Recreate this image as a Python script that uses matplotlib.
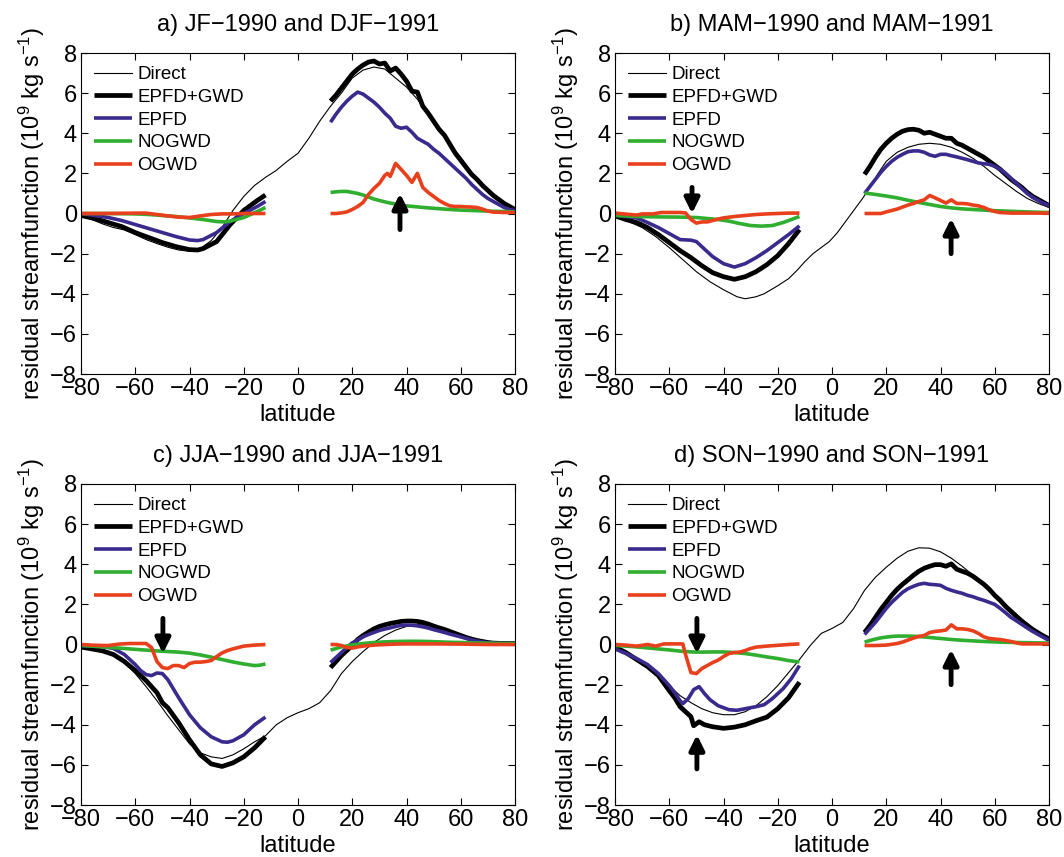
import numpy as np
import matplotlib
matplotlib.use("Agg")
import matplotlib.pyplot as plt

plt.rcParams['font.family'] = ['Liberation Sans', 'DejaVu Sans']
plt.rcParams['mathtext.fontset'] = 'custom'
plt.rcParams['mathtext.rm'] = 'Liberation Sans'
plt.rcParams['mathtext.it'] = 'Liberation Sans:italic'

# ---- data: (latitude, residual streamfunction in 1e9 kg/s) ----
# panel a) JF-1990 and DJF-1991
a_direct = [(-80, -0.13), (-76, -0.3), (-72, -0.52), (-68, -0.7), (-64, -0.82), (-60, -1.05), (-56, -1.3),
            (-52, -1.5), (-48, -1.68), (-44, -1.82), (-40, -1.88), (-36, -1.75), (-32, -1.35), (-28, -0.7),
            (-24, 0.15), (-20, 0.85), (-16, 1.4), (-12, 1.8), (-8, 2.15), (-4, 2.6), (0, 3.0), (4, 3.75),
            (8, 4.6), (12, 5.35), (16, 6.0), (20, 6.75), (24, 7.15), (28, 7.3), (32, 7.2), (36, 6.75),
            (40, 6.3), (44, 5.7), (48, 4.95), (52, 4.2), (56, 3.45), (60, 2.8), (64, 2.05), (68, 1.35),
            (72, 0.85), (76, 0.45), (80, 0.2)]
a_total_s = [(-80, -0.1), (-75, -0.25), (-70, -0.45), (-65, -0.65), (-60, -0.95), (-55, -1.2), (-50, -1.45),
             (-45, -1.65), (-40, -1.8), (-37, -1.82), (-35, -1.75), (-30, -1.4), (-25, -0.55), (-20, 0.15),
             (-15, 0.65), (-12, 0.92)]
a_total_n = [(12, 5.6), (14, 5.9), (16, 6.25), (18, 6.6), (20, 6.95), (22, 7.2), (24, 7.4), (26, 7.55),
             (28, 7.6), (30, 7.45), (32, 7.5), (34, 7.1), (36, 7.25), (38, 6.95), (40, 6.6), (42, 6.1),
             (44, 6.05), (46, 5.35), (48, 5.0), (50, 4.6), (52, 4.2), (54, 3.9), (56, 3.45), (58, 3.0),
             (60, 2.65), (62, 2.3), (64, 1.95), (66, 1.7), (68, 1.4), (70, 1.15), (72, 0.9), (74, 0.7),
             (76, 0.5), (78, 0.35), (80, 0.2)]
a_epfd_s = [(-80, 0.0), (-75, -0.1), (-70, -0.2), (-65, -0.35), (-60, -0.55), (-55, -0.75), (-50, -0.95),
            (-45, -1.15), (-40, -1.32), (-37, -1.35), (-35, -1.3), (-30, -0.95), (-25, -0.4), (-20, 0.0),
            (-15, 0.35), (-12, 0.6)]
a_epfd_n = [(12, 4.55), (14, 4.95), (16, 5.3), (18, 5.6), (20, 5.85), (22, 6.05), (24, 5.95), (26, 5.75),
            (28, 5.55), (30, 5.3), (32, 5.0), (34, 4.75), (36, 4.35), (38, 4.25), (40, 4.3), (42, 4.05),
            (44, 3.75), (46, 3.6), (48, 3.45), (50, 3.2), (52, 3.0), (54, 2.75), (56, 2.5), (58, 2.25),
            (60, 2.0), (62, 1.75), (64, 1.45), (66, 1.2), (68, 0.95), (70, 0.75), (72, 0.6), (74, 0.45),
            (76, 0.3), (78, 0.2), (80, 0.15)]
a_nogwd_s = [(-80, 0.0), (-70, 0.0), (-60, -0.02), (-55, -0.05), (-50, -0.1), (-45, -0.15), (-40, -0.22),
             (-35, -0.3), (-30, -0.4), (-27, -0.42), (-25, -0.38), (-20, -0.2), (-15, 0.1), (-12, 0.3)]
a_nogwd_n = [(12, 1.05), (14, 1.08), (16, 1.1), (18, 1.1), (20, 1.05), (22, 1.0), (24, 0.92), (26, 0.82),
             (28, 0.72), (30, 0.65), (32, 0.58), (34, 0.52), (36, 0.47), (38, 0.42), (40, 0.38), (44, 0.33),
             (48, 0.28), (52, 0.24), (56, 0.2), (60, 0.17), (64, 0.15), (68, 0.13), (72, 0.11), (76, 0.1),
             (80, 0.08)]
a_ogwd_s = [(-80, 0.0), (-70, 0.0), (-60, 0.02), (-56, 0.02), (-52, -0.05), (-48, -0.12), (-44, -0.18),
            (-40, -0.2), (-36, -0.12), (-32, -0.05), (-28, -0.02), (-24, -0.02), (-20, 0.0), (-16, 0.0),
            (-12, 0.0)]
a_ogwd_n = [(12, 0.0), (14, 0.0), (16, 0.03), (18, 0.08), (20, 0.2), (22, 0.35), (24, 0.55), (26, 0.95),
            (28, 1.25), (30, 1.5), (32, 1.9), (33, 2.0), (34, 1.85), (36, 2.5), (38, 2.2), (40, 1.9),
            (42, 1.55), (44, 2.0), (46, 1.3), (48, 1.05), (50, 0.85), (52, 0.65), (54, 0.5), (56, 0.38),
            (58, 0.35), (60, 0.35), (62, 0.33), (64, 0.32), (66, 0.3), (68, 0.22), (70, 0.12), (72, 0.07),
            (76, 0.05), (80, 0.05)]
a_arrows = [(37.6, -0.8, 1.0)]  # lat, tail, head

# panel b) MAM-1990 and MAM-1991
b_direct = [(-80, -0.1), (-75, -0.4), (-70, -0.7), (-65, -1.15), (-60, -1.7), (-55, -2.3), (-50, -2.9),
            (-45, -3.4), (-40, -3.8), (-35, -4.15), (-32, -4.25), (-28, -4.15), (-25, -4.0), (-20, -3.6),
            (-16, -3.25), (-13, -2.85), (-10, -2.4), (-7, -2.0), (-4, -1.7), (-1, -1.4), (2, -0.95),
            (5, -0.4), (8, 0.15), (11, 0.7), (14, 1.3), (17, 2.0), (20, 2.6), (24, 3.05), (28, 3.3),
            (32, 3.45), (36, 3.5), (40, 3.45), (44, 3.3), (48, 3.05), (52, 2.75), (56, 2.35), (60, 1.9),
            (64, 1.5), (68, 1.1), (72, 0.75), (76, 0.5), (80, 0.3)]
b_total_s = [(-80, -0.12), (-76, -0.3), (-72, -0.45), (-68, -0.7), (-64, -1.05), (-60, -1.45), (-56, -1.85),
             (-52, -2.2), (-48, -2.6), (-44, -2.95), (-40, -3.15), (-36, -3.28), (-32, -3.15), (-28, -2.9),
             (-24, -2.55), (-20, -2.1), (-16, -1.5), (-12, -0.8)]
b_total_n = [(12, 1.95), (14, 2.35), (16, 2.8), (18, 3.2), (20, 3.5), (22, 3.75), (24, 3.95), (26, 4.1),
             (28, 4.18), (30, 4.2), (32, 4.15), (34, 4.0), (36, 4.05), (38, 3.95), (40, 3.85), (42, 3.75),
             (44, 3.75), (46, 3.5), (48, 3.4), (50, 3.25), (52, 3.1), (54, 2.95), (56, 2.8), (58, 2.6),
             (60, 2.4), (62, 2.2), (64, 1.95), (66, 1.7), (68, 1.5), (70, 1.3), (72, 1.05), (74, 0.85),
             (76, 0.7), (78, 0.55), (80, 0.4)]
b_epfd_s = [(-80, -0.08), (-76, -0.15), (-72, -0.22), (-68, -0.45), (-64, -0.7), (-60, -1.0), (-56, -1.3),
            (-52, -1.33), (-50, -1.4), (-48, -1.65), (-44, -2.15), (-40, -2.5), (-36, -2.67), (-32, -2.5),
            (-28, -2.2), (-24, -1.85), (-20, -1.45), (-16, -1.05), (-12, -0.62)]
b_epfd_n = [(12, 1.0), (14, 1.35), (16, 1.7), (18, 2.05), (20, 2.35), (22, 2.6), (24, 2.8), (26, 2.95),
            (28, 3.08), (30, 3.12), (32, 3.12), (34, 3.05), (36, 2.92), (38, 2.85), (40, 2.95), (42, 2.95),
            (44, 2.88), (46, 2.82), (48, 2.75), (50, 2.68), (52, 2.6), (54, 2.52), (56, 2.48), (58, 2.45),
            (60, 2.35), (62, 2.2), (64, 2.0), (66, 1.75), (68, 1.5), (70, 1.25), (72, 1.0), (74, 0.8),
            (76, 0.65), (78, 0.5), (80, 0.4)]
b_nogwd_s = [(-80, -0.1), (-72, -0.15), (-64, -0.17), (-56, -0.18), (-50, -0.2), (-46, -0.25), (-42, -0.3),
             (-38, -0.38), (-34, -0.5), (-30, -0.6), (-26, -0.63), (-22, -0.6), (-18, -0.45), (-15, -0.3),
             (-12, -0.15)]
b_nogwd_n = [(12, 1.02), (16, 0.95), (20, 0.87), (24, 0.78), (28, 0.66), (32, 0.55), (36, 0.45), (40, 0.35),
             (44, 0.28), (48, 0.23), (52, 0.2), (56, 0.17), (60, 0.14), (64, 0.12), (68, 0.1), (72, 0.08),
             (76, 0.06), (80, 0.05)]
b_ogwd_s = [(-80, 0.02), (-76, -0.03), (-72, -0.08), (-70, -0.02), (-66, -0.02), (-63, 0.05), (-60, 0.05),
            (-56, 0.05), (-54, 0.03), (-52, -0.3), (-50, -0.48), (-48, -0.42), (-46, -0.42), (-44, -0.35),
            (-42, -0.28), (-40, -0.22), (-36, -0.15), (-32, -0.1), (-28, -0.05), (-24, -0.02), (-20, 0.0),
            (-16, 0.02), (-12, 0.02)]
b_ogwd_n = [(12, 0.0), (16, 0.0), (18, 0.0), (20, 0.08), (22, 0.15), (24, 0.22), (26, 0.32), (28, 0.42),
            (30, 0.5), (32, 0.6), (34, 0.68), (36, 0.9), (38, 0.78), (40, 0.65), (42, 0.52), (44, 0.68),
            (46, 0.5), (48, 0.5), (50, 0.48), (52, 0.42), (54, 0.38), (56, 0.3), (58, 0.18), (60, 0.1),
            (62, 0.05), (66, 0.02), (70, 0.02), (80, 0.02)]
b_arrows = [(-51.6, 1.3, 0.0), (43.9, -2.0, -0.25)]

# panel c) JJA-1990 and JJA-1991
c_direct = [(-80, -0.13), (-76, -0.25), (-72, -0.35), (-68, -0.55), (-64, -0.9), (-60, -1.45), (-56, -2.1),
            (-52, -2.8), (-48, -3.55), (-44, -4.25), (-40, -4.95), (-36, -5.4), (-32, -5.6), (-28, -5.68),
            (-24, -5.5), (-20, -5.2), (-16, -4.85), (-12, -4.55), (-8, -4.0), (-4, -3.65), (0, -3.4),
            (4, -3.2), (8, -2.9), (12, -2.3), (16, -1.45), (20, -0.85), (24, -0.35), (28, 0.1), (32, 0.45),
            (36, 0.72), (40, 0.9), (44, 1.0), (48, 0.95), (52, 0.8), (56, 0.6), (60, 0.42), (64, 0.27),
            (68, 0.15), (72, 0.08), (76, 0.05), (80, 0.05)]
c_total_s = [(-80, -0.13), (-76, -0.22), (-72, -0.32), (-68, -0.5), (-64, -0.85), (-60, -1.3), (-56, -1.8),
             (-52, -2.4), (-50, -2.9), (-48, -3.15), (-44, -3.9), (-40, -4.75), (-36, -5.5), (-32, -5.95),
             (-28, -6.08), (-24, -5.9), (-20, -5.6), (-16, -5.15), (-12, -4.6)]
c_total_n = [(12, -1.15), (14, -0.85), (16, -0.55), (18, -0.3), (20, -0.05), (22, 0.25), (24, 0.45),
             (26, 0.62), (28, 0.78), (30, 0.9), (32, 0.98), (34, 1.05), (36, 1.1), (38, 1.15), (40, 1.17),
             (42, 1.17), (44, 1.15), (46, 1.1), (48, 1.02), (50, 0.92), (52, 0.83), (54, 0.75), (56, 0.65),
             (58, 0.55), (60, 0.45), (62, 0.35), (64, 0.27), (66, 0.2), (68, 0.15), (70, 0.1), (72, 0.07),
             (76, 0.05), (80, 0.05)]
c_epfd_s = [(-80, -0.05), (-76, -0.08), (-72, -0.1), (-68, -0.2), (-64, -0.5), (-62, -0.75), (-60, -1.0),
            (-58, -1.3), (-56, -1.5), (-54, -1.55), (-52, -1.42), (-50, -1.45), (-48, -1.75), (-46, -2.2),
            (-44, -2.65), (-40, -3.5), (-36, -4.15), (-32, -4.6), (-28, -4.85), (-26, -4.87), (-24, -4.8),
            (-20, -4.5), (-16, -4.0), (-12, -3.62)]
c_epfd_n = [(12, -0.9), (14, -0.65), (16, -0.4), (18, -0.15), (20, 0.08), (22, 0.22), (24, 0.38), (26, 0.5),
            (28, 0.6), (30, 0.7), (32, 0.77), (34, 0.83), (36, 0.9), (38, 0.95), (40, 0.97), (42, 0.96),
            (44, 0.93), (46, 0.88), (48, 0.82), (50, 0.74), (52, 0.67), (54, 0.6), (56, 0.52), (58, 0.45),
            (60, 0.38), (62, 0.3), (64, 0.23), (66, 0.17), (68, 0.12), (70, 0.09), (74, 0.06), (80, 0.05)]
c_nogwd_s = [(-80, -0.05), (-76, -0.08), (-72, -0.12), (-68, -0.16), (-64, -0.2), (-60, -0.24), (-56, -0.28),
             (-52, -0.32), (-48, -0.35), (-44, -0.38), (-40, -0.43), (-36, -0.52), (-32, -0.63), (-28, -0.75),
             (-24, -0.87), (-20, -0.97), (-16, -1.05), (-14, -1.03), (-12, -0.97)]
c_nogwd_n = [(12, -0.28), (14, -0.2), (16, -0.12), (18, -0.07), (20, -0.02), (24, 0.05), (28, 0.1),
             (32, 0.13), (36, 0.15), (40, 0.16), (44, 0.16), (48, 0.15), (52, 0.13), (56, 0.11), (60, 0.1),
             (64, 0.08), (68, 0.07), (72, 0.06), (76, 0.05), (80, 0.05)]
c_ogwd_s = [(-80, 0.0), (-76, -0.03), (-72, -0.05), (-70, -0.05), (-66, 0.02), (-62, 0.05), (-58, 0.05),
            (-56, 0.05), (-54, -0.15), (-52, -0.85), (-50, -1.15), (-48, -1.2), (-46, -1.05), (-44, -1.05),
            (-42, -1.15), (-40, -0.95), (-38, -0.88), (-36, -0.88), (-34, -0.85), (-32, -0.8), (-30, -0.6),
            (-28, -0.42), (-26, -0.3), (-24, -0.22), (-22, -0.15), (-20, -0.08), (-16, -0.03), (-12, 0.0)]
c_ogwd_n = [(12, 0.0), (14, 0.0), (16, -0.05), (18, -0.15), (20, -0.18), (22, -0.12), (24, -0.08),
            (28, -0.03), (32, 0.0), (36, 0.02), (40, 0.03), (50, 0.03), (60, 0.02), (70, 0.0), (80, 0.0)]
c_arrows = [(-49.8, 1.3, -0.45)]

# panel d) SON-1990 and SON-1991
d_direct = [(-80, -0.2), (-76, -0.45), (-72, -0.7), (-68, -1.05), (-64, -1.55), (-60, -2.05), (-56, -2.55),
            (-52, -2.9), (-48, -3.2), (-44, -3.4), (-40, -3.5), (-36, -3.5), (-32, -3.35), (-28, -3.05),
            (-24, -2.6), (-20, -2.05), (-16, -1.4), (-12, -0.75), (-8, -0.05), (-4, 0.55), (0, 0.8),
            (4, 1.1), (8, 1.8), (12, 2.7), (16, 3.35), (20, 3.85), (24, 4.3), (28, 4.65), (32, 4.82),
            (36, 4.8), (40, 4.62), (44, 4.3), (48, 3.9), (52, 3.45), (56, 2.95), (60, 2.45), (64, 2.0),
            (68, 1.5), (72, 1.05), (76, 0.6), (80, 0.28)]
d_total_s = [(-80, -0.13), (-76, -0.4), (-72, -0.75), (-68, -1.1), (-64, -1.55), (-60, -2.3), (-58, -2.65),
             (-56, -3.1), (-54, -3.35), (-52, -3.6), (-51, -4.05), (-49, -3.85), (-47, -4.0), (-44, -4.1),
             (-40, -4.18), (-36, -4.12), (-32, -4.0), (-28, -3.8), (-24, -3.62), (-20, -3.2), (-16, -2.65),
             (-12, -1.88)]
d_total_n = [(12, 0.6), (14, 0.95), (16, 1.35), (18, 1.75), (20, 2.1), (22, 2.45), (24, 2.75), (26, 3.0),
             (28, 3.22), (30, 3.45), (32, 3.65), (34, 3.8), (36, 3.9), (38, 3.98), (40, 3.98), (42, 3.9),
             (44, 4.02), (46, 3.75), (48, 3.65), (50, 3.55), (52, 3.4), (54, 3.2), (56, 3.0), (58, 2.75),
             (60, 2.45), (62, 2.2), (64, 1.9), (66, 1.65), (68, 1.4), (70, 1.15), (72, 0.95), (74, 0.75),
             (76, 0.58), (78, 0.42), (80, 0.28)]
d_epfd_s = [(-80, -0.22), (-76, -0.45), (-72, -0.7), (-68, -1.0), (-64, -1.45), (-60, -2.05), (-58, -2.4),
            (-56, -2.8), (-55, -2.95), (-53, -2.7), (-51, -2.25), (-49, -2.1), (-47, -2.45), (-45, -2.75),
            (-42, -3.05), (-38, -3.25), (-35, -3.28), (-32, -3.2), (-28, -3.1), (-25, -3.0), (-22, -2.7),
            (-18, -2.2), (-15, -1.7), (-12, -1.05)]
d_epfd_n = [(12, 0.5), (14, 0.8), (16, 1.1), (18, 1.45), (20, 1.8), (22, 2.1), (24, 2.35), (26, 2.6),
            (28, 2.78), (30, 2.9), (32, 3.0), (34, 3.05), (36, 3.0), (38, 2.98), (40, 2.95), (42, 2.8),
            (44, 2.7), (46, 2.62), (48, 2.55), (50, 2.45), (52, 2.38), (54, 2.28), (56, 2.2), (58, 2.1),
            (60, 2.0), (62, 1.8), (64, 1.58), (66, 1.35), (68, 1.18), (70, 1.0), (72, 0.82), (74, 0.65),
            (76, 0.5), (78, 0.35), (80, 0.2)]
d_nogwd_s = [(-80, -0.05), (-76, -0.08), (-72, -0.12), (-68, -0.17), (-64, -0.22), (-60, -0.27), (-56, -0.33),
             (-52, -0.37), (-48, -0.38), (-44, -0.37), (-40, -0.37), (-36, -0.4), (-32, -0.45), (-28, -0.53),
             (-24, -0.62), (-20, -0.7), (-16, -0.8), (-12, -0.87)]
d_nogwd_n = [(12, 0.12), (14, 0.2), (16, 0.27), (18, 0.33), (20, 0.37), (22, 0.4), (24, 0.42), (28, 0.42),
             (32, 0.4), (36, 0.35), (40, 0.3), (44, 0.25), (48, 0.21), (52, 0.18), (56, 0.15), (60, 0.13),
             (64, 0.11), (68, 0.1), (72, 0.09), (76, 0.08), (80, 0.07)]
d_ogwd_s = [(-80, 0.0), (-76, -0.03), (-72, -0.08), (-68, 0.0), (-65, -0.08), (-62, 0.03), (-58, 0.03),
            (-55, 0.03), (-54, -0.5), (-52, -1.4), (-50, -1.45), (-48, -1.2), (-46, -1.05), (-44, -0.9),
            (-42, -0.78), (-40, -0.6), (-38, -0.45), (-36, -0.4), (-34, -0.38), (-32, -0.3), (-30, -0.2),
            (-28, -0.13), (-24, -0.08), (-20, -0.04), (-16, 0.0), (-12, 0.03)]
d_ogwd_n = [(12, -0.05), (16, -0.05), (20, -0.03), (24, 0.05), (26, 0.12), (28, 0.22), (30, 0.32), (32, 0.4),
            (34, 0.45), (36, 0.6), (38, 0.65), (40, 0.68), (42, 0.72), (44, 0.98), (46, 0.78), (48, 0.78),
            (50, 0.75), (52, 0.68), (54, 0.55), (56, 0.38), (58, 0.3), (60, 0.27), (62, 0.25), (64, 0.2),
            (66, 0.15), (68, 0.08), (70, 0.03), (80, 0.03)]
d_arrows = [(-49.8, 1.3, -0.45), (-49.8, -6.2, -4.5), (43.9, -2.0, -0.25)]

titles = ['a) JF\u22121990 and DJF\u22121991', 'b) MAM\u22121990 and MAM\u22121991',
          'c) JJA\u22121990 and JJA\u22121991', 'd) SON\u22121990 and SON\u22121991']
names = ['Direct', 'EPFD+GWD', 'EPFD', 'NOGWD', 'OGWD']
colors = ['black', 'black', '#3b2a8e', '#2fae2f', '#e8401c']
widths = [0.8, 3.4, 2.6, 2.6, 2.6]

panels = [
    (a_direct, [(a_total_s, a_total_n), (a_epfd_s, a_epfd_n), (a_nogwd_s, a_nogwd_n), (a_ogwd_s, a_ogwd_n)], a_arrows),
    (b_direct, [(b_total_s, b_total_n), (b_epfd_s, b_epfd_n), (b_nogwd_s, b_nogwd_n), (b_ogwd_s, b_ogwd_n)], b_arrows),
    (c_direct, [(c_total_s, c_total_n), (c_epfd_s, c_epfd_n), (c_nogwd_s, c_nogwd_n), (c_ogwd_s, c_ogwd_n)], c_arrows),
    (d_direct, [(d_total_s, d_total_n), (d_epfd_s, d_epfd_n), (d_nogwd_s, d_nogwd_n), (d_ogwd_s, d_ogwd_n)], d_arrows),
]

W, H = 1064, 857
fig = plt.figure(figsize=(W / 100, H / 100), dpi=100)
# axes boxes in pixels (left, top)
boxes = [(81, 53), (615, 53), (81, 484), (615, 484)]
aw, ah = 434, 321

for k, (direct, curves, arrows) in enumerate(panels):
    left, top = boxes[k]
    ax = fig.add_axes([left / W, 1 - (top + ah) / H, aw / W, ah / H])
    d = np.array(direct)
    ax.plot(d[:, 0], d[:, 1], color=colors[0], lw=widths[0], label=names[0])
    for j, (south, north) in enumerate(curves):
        s = np.array(south)
        n = np.array(north)
        ax.plot(s[:, 0], s[:, 1], color=colors[j + 1], lw=widths[j + 1], label=names[j + 1],
                solid_capstyle='butt')
        ax.plot(n[:, 0], n[:, 1], color=colors[j + 1], lw=widths[j + 1], solid_capstyle='butt')
    for lat, tail, head in arrows:
        ax.annotate('', xy=(lat, head), xytext=(lat, tail),
                    arrowprops=dict(arrowstyle='-|>', lw=3.5, color='black',
                                    mutation_scale=22, shrinkA=0, shrinkB=0))
    ax.set_xlim(-80, 80)
    ax.set_ylim(-8, 8)
    ax.set_xticks(np.arange(-80, 81, 20))
    ax.set_yticks(np.arange(-8, 9, 2))
    ax.tick_params(direction='in', top=True, right=True, labelsize=17, length=5, pad=3)
    ax.set_title(titles[k], fontsize=17, pad=16)
    ax.set_xlabel('latitude', fontsize=17, labelpad=3)
    ax.set_ylabel(r'residual streamfunction (10$^9$ kg s$^{-1}$)', fontsize=17, labelpad=2)
    ax.legend(loc='upper left', frameon=False, fontsize=13.5, handlelength=2.0,
              labelspacing=0.3, handletextpad=0.3, borderaxespad=0.3)

fig.savefig('out.png', dpi=100, facecolor='w')
